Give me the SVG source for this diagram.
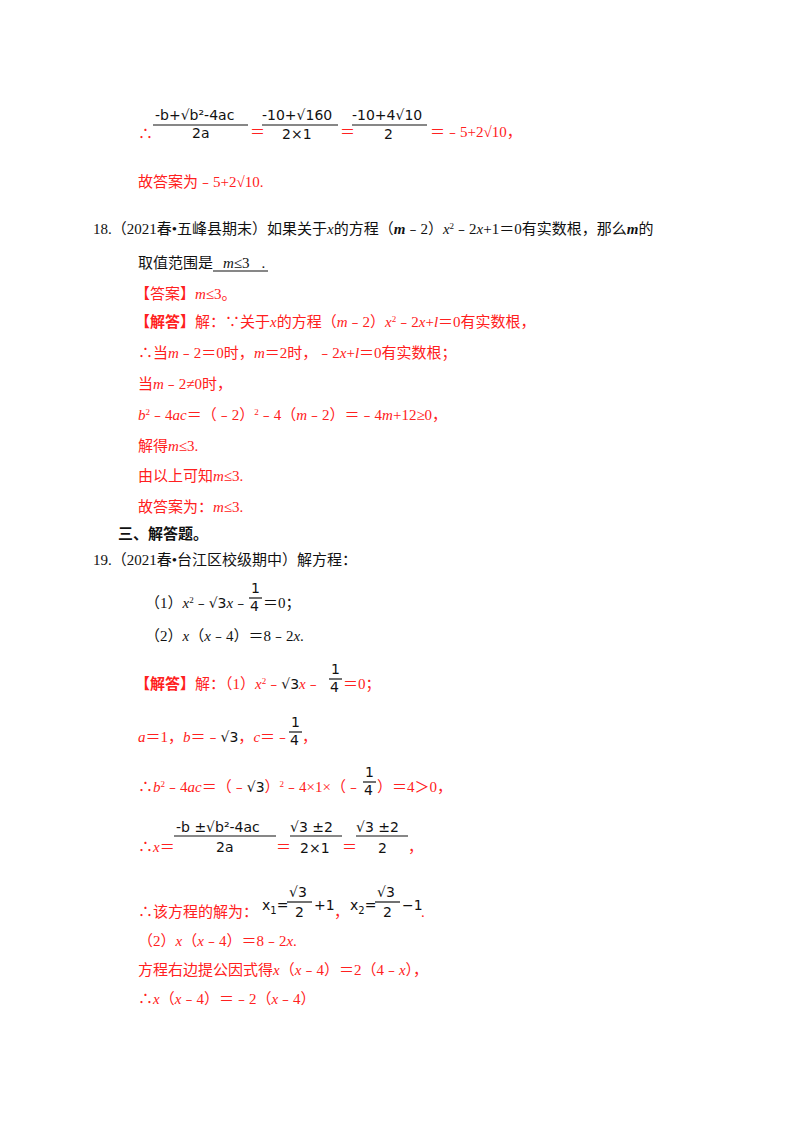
<svg xmlns="http://www.w3.org/2000/svg" width="800" height="1132" viewBox="0 0 800 1132">
<style>
text{font-family:"Liberation Serif","Noto Sans CJK SC",serif;font-size:15px}
.r{fill:#ff2020}
.k{fill:#111}
.m{font-family:"DejaVu Sans","Liberation Sans",sans-serif;font-size:14px;fill:#111}
.i{font-style:italic}
.b{font-weight:bold}
line{stroke:#111;stroke-width:1.2}
</style>
<rect width="800" height="1132" fill="#fff"/>
<text class="r" x="138" y="139">∴</text>
<text class="m" x="155" y="120">-b+√b²-4ac</text>
<line x1="153" y1="125" x2="248" y2="125"/>
<text class="m" x="192" y="138">2a</text>
<text class="r" x="250" y="137">＝</text>
<text class="m" x="262" y="120">-10+√160</text>
<line x1="262" y1="125" x2="338" y2="125"/>
<text class="m" x="282" y="139">2×1</text>
<text class="r" x="340" y="137">＝</text>
<text class="m" x="352" y="120">-10+4√10</text>
<line x1="352" y1="125" x2="427" y2="125"/>
<text class="m" x="384" y="139">2</text>
<text class="r" x="430" y="137">＝﹣5+2√10，</text>
<text class="r" x="138" y="187">故答案为﹣5+2√10.</text>
<text class="k" x="93" y="234">18.（2021春•五峰县期末）如果关于<tspan class="i">x</tspan>的方程（<tspan class="i b">m</tspan>﹣2）<tspan class="i">x</tspan><tspan font-size="9" dy="-5">2</tspan><tspan dy="5">﹣2</tspan><tspan class="i">x</tspan>+1＝0有实数根，那么<tspan class="i b">m</tspan>的</text>
<text class="k" x="138" y="268">取值范围是<tspan dx="10" class="i">m</tspan>≤3<tspan dx="12">.</tspan></text>
<line x1="213" y1="271" x2="268" y2="271" stroke-width="1"/>
<text class="r" x="135" y="299">【答案】<tspan class="i">m</tspan>≤3。</text>
<text class="r" x="135" y="327"><tspan class="b">【解答】</tspan>解：∵关于<tspan class="i">x</tspan>的方程（<tspan class="i">m</tspan>﹣2）<tspan class="i">x</tspan><tspan font-size="9" dy="-5">2</tspan><tspan dy="5">﹣2</tspan><tspan class="i">x</tspan>+<tspan class="i">l</tspan>＝0有实数根，</text>
<text class="r" x="138" y="358">∴当<tspan class="i">m</tspan>﹣2＝0时，<tspan class="i">m</tspan>＝2时，﹣2<tspan class="i">x</tspan>+<tspan class="i">l</tspan>＝0有实数根；</text>
<text class="r" x="138" y="389">当<tspan class="i">m</tspan>﹣2≠0时，</text>
<text class="r" x="138" y="420"><tspan class="i">b</tspan><tspan font-size="9" dy="-5">2</tspan><tspan dy="5">﹣4</tspan><tspan class="i">ac</tspan>＝（﹣2）<tspan font-size="9" dy="-5">2</tspan><tspan dy="5">﹣4（</tspan><tspan class="i">m</tspan>﹣2）＝﹣4<tspan class="i">m</tspan>+12≥0，</text>
<text class="r" x="138" y="451">解得<tspan class="i">m</tspan>≤3.</text>
<text class="r" x="138" y="481">由以上可知<tspan class="i">m</tspan>≤3.</text>
<text class="r" x="138" y="512">故答案为：<tspan class="i">m</tspan>≤3.</text>
<text class="k b" x="118" y="539">三、解答题。</text>
<text class="k" x="93" y="565">19.（2021春•台江区校级期中）解方程：</text>
<text class="k" x="145" y="608">（1）<tspan class="i">x</tspan><tspan font-size="9" dy="-5">2</tspan><tspan dy="5">﹣</tspan><tspan class="m">√3</tspan><tspan class="i">x</tspan>﹣</text>
<text class="m" x="251" y="593">1</text><line x1="249" y1="598" x2="262" y2="598"/><text class="m" x="250" y="611">4</text>
<text class="k" x="263" y="608">＝0；</text>
<text class="k" x="145" y="641">（2）<tspan class="i">x</tspan>（<tspan class="i">x</tspan>﹣4）＝8﹣2<tspan class="i">x</tspan>.</text>
<text class="r" x="135" y="689"><tspan class="b">【解答】</tspan>解：（1）<tspan class="i">x</tspan><tspan font-size="9" dy="-5">2</tspan><tspan dy="5">﹣</tspan><tspan class="m">√3</tspan><tspan class="i">x</tspan>﹣</text>
<text class="m" x="331" y="674">1</text><line x1="329" y1="679" x2="342" y2="679"/><text class="m" x="330" y="692">4</text>
<text class="r" x="343" y="689">＝0；</text>
<text class="r" x="138" y="742"><tspan class="i">a</tspan>＝1，<tspan class="i">b</tspan>＝﹣<tspan class="m">√3</tspan>，<tspan class="i">c</tspan>＝﹣</text>
<text class="m" x="291" y="727">1</text><line x1="289" y1="732" x2="302" y2="732"/><text class="m" x="290" y="745">4</text>
<text class="r" x="302" y="742">，</text>
<text class="r" x="138" y="792">∴<tspan class="i">b</tspan><tspan font-size="9" dy="-5">2</tspan><tspan dy="5">﹣4</tspan><tspan class="i">ac</tspan>＝（﹣<tspan class="m">√3</tspan>）<tspan font-size="9" dy="-5">2</tspan><tspan dy="5">﹣4×1×（﹣</tspan></text>
<text class="m" x="365" y="777">1</text><line x1="363" y1="782" x2="376" y2="782"/><text class="m" x="364" y="795">4</text>
<text class="r" x="377" y="792">）＝4＞0，</text>
<text class="r" x="138" y="852">∴<tspan class="i">x</tspan>＝</text>
<text class="m" x="176" y="832">-b ±√b²-4ac</text>
<line x1="174" y1="836" x2="276" y2="836"/>
<text class="m" x="216" y="852">2a</text>
<text class="r" x="276" y="852">＝</text>
<text class="m" x="290" y="832">√3 ±2</text>
<line x1="290" y1="836" x2="342" y2="836"/>
<text class="m" x="300" y="853">2×1</text>
<text class="r" x="342" y="852">＝</text>
<text class="m" x="356" y="832">√3 ±2</text>
<line x1="356" y1="836" x2="408" y2="836"/>
<text class="m" x="378" y="853">2</text>
<text class="r" x="408" y="852">，</text>
<text class="r" x="138" y="917">∴该方程的解为：</text>
<text class="m" x="262" y="910">x<tspan font-size="10" dy="4">1</tspan><tspan dy="-4">=</tspan></text>
<text class="m" x="289" y="897">√3</text><line x1="287" y1="902" x2="312" y2="902"/><text class="m" x="295" y="917">2</text>
<text class="m" x="314" y="910">+1</text>
<text class="r" x="334" y="917">，</text>
<text class="m" x="350" y="910">x<tspan font-size="10" dy="4">2</tspan><tspan dy="-4">=</tspan></text>
<text class="m" x="377" y="897">√3</text><line x1="375" y1="902" x2="400" y2="902"/><text class="m" x="383" y="917">2</text>
<text class="m" x="402" y="910">−1</text>
<text class="r" x="421" y="917">.</text>
<text class="r" x="138" y="946">（2）<tspan class="i">x</tspan>（<tspan class="i">x</tspan>﹣4）＝8﹣2<tspan class="i">x</tspan>.</text>
<text class="r" x="138" y="975">方程右边提公因式得<tspan class="i">x</tspan>（<tspan class="i">x</tspan>﹣4）＝2（4﹣<tspan class="i">x</tspan>），</text>
<text class="r" x="138" y="1004">∴<tspan class="i">x</tspan>（<tspan class="i">x</tspan>﹣4）＝﹣2（<tspan class="i">x</tspan>﹣4）</text>
</svg>
